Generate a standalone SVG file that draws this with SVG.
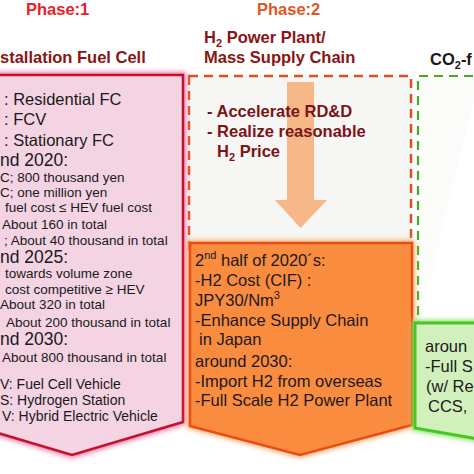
<svg xmlns="http://www.w3.org/2000/svg" width="474" height="474" viewBox="0 0 474 474">
<defs>
<filter id="glow" x="-20%" y="-20%" width="140%" height="140%"><feGaussianBlur stdDeviation="2.5"/></filter>
<style>
text{font-family:"Liberation Sans",Arial,Helvetica,sans-serif}
.hd{font-size:16.5px;font-weight:bold}
.p1{fill:#e8202a}
.p2{fill:#e05526}
.sub{fill:#8b1414}
.blk{fill:#1a1a1a}
.big{font-size:16.5px}
.yr{font-size:17.5px}
.sm{font-size:13.5px}
.lg{font-size:14px}
.body{font-size:16.5px}
.dr{fill:#7a1418;font-weight:bold;font-size:16.5px}
</style>
</defs>
<rect width="474" height="474" fill="#ffffff"/>

<g id="headers">
<text x="26" y="15" class="hd p1">Phase:1</text>
<text x="257" y="15" class="hd p2">Phase:2</text>
<text x="0" y="63" class="hd sub">stallation Fuel Cell</text>
<text x="204" y="43" class="hd sub">H<tspan font-size="11" dy="4">2</tspan><tspan dy="-4"> Power Plant/</tspan></text>
<text x="204" y="63" class="hd sub">Mass Supply Chain</text>
<text x="430" y="65" class="hd blk">CO<tspan font-size="11" dy="4">2</tspan><tspan dy="-4">-f</tspan></text>
</g>

<g id="phase2-frame">
<rect x="189" y="76" width="222" height="180" fill="#f6f6f4" stroke="#e0501e" stroke-width="2.5" stroke-dasharray="9,6"/>
</g>
<g id="phase3-frame">
<path d="M418,330 V76 H480" fill="#fcfcfb" stroke="#45aa25" stroke-width="2.2" stroke-dasharray="9,6"/>
</g>

<g id="phase1">
<path d="M-39,75 H183 V422 L72,455 L-39,422 Z" fill="none" stroke="#f07aa8" stroke-width="6" filter="url(#glow)"/>
<path d="M-39,75 H183 V422 L72,455 L-39,422 Z" fill="#f4d3e2" stroke="#c4102c" stroke-width="2.5"/>
<g class="blk">
<text x="4" y="105" class="big">: Residential FC</text>
<text x="4" y="125" class="big">: FCV</text>
<text x="4" y="146" class="big">: Stationary FC</text>
<text x="0" y="166" class="yr">nd 2020:</text>
<text x="0" y="182" class="sm">C; 800 thousand yen</text>
<text x="0" y="197" class="sm">C; one million yen</text>
<text x="5" y="212" class="sm">fuel cost ≤ HEV fuel cost</text>
<text x="2" y="229" class="sm">About 160 in total</text>
<text x="4" y="245" class="sm">; About 40 thousand in total</text>
<text x="0" y="263" class="yr">nd 2025:</text>
<text x="5" y="278" class="sm">towards volume zone</text>
<text x="5" y="294" class="sm">cost competitive ≥ HEV</text>
<text x="0" y="309" class="sm">About 320 in total</text>
<text x="6" y="327" class="sm">About 200 thousand in total</text>
<text x="0" y="345" class="yr">nd 2030:</text>
<text x="2" y="362" class="sm">About 800 thousand in total</text>
<text x="0" y="389" class="lg">V: Fuel Cell Vehicle</text>
<text x="0" y="405" class="lg">S: Hydrogen Station</text>
<text x="2" y="421" class="lg">V: Hybrid Electric Vehicle</text>
</g>
</g>

<g id="connectors">
<path d="M287,82 H314 V200 H327 L300.5,228 L275,200 H287 Z" fill="#f6b888"/>
</g>

<g id="phase2-goals">
<text x="207" y="117" class="dr">- Accelerate RD&amp;D</text>
<text x="207" y="137" class="dr">- Realize reasonable</text>
<text x="217" y="157" class="dr">H<tspan font-size="11" dy="4">2</tspan><tspan dy="-4"> Price</tspan></text>
</g>

<g id="phase2">
<path d="M190,243 H412 V425 L300,455 L190,426 Z" fill="none" stroke="#fcae70" stroke-width="6" filter="url(#glow)"/>
<path d="M190,243 H412 V425 L300,455 L190,426 Z" fill="#fa8c40" stroke="#e84e14" stroke-width="2.5"/>
<g class="blk body">
<text x="195" y="266">2<tspan font-size="11" dy="-7">nd</tspan><tspan dy="7"> half of 2020´s:</tspan></text>
<text x="195" y="286">-H2 Cost (CIF) :</text>
<text x="195" y="306">JPY30/Nm<tspan font-size="11" dy="-7">3</tspan></text>
<text x="195" y="326">-Enhance Supply Chain</text>
<text x="199" y="345">in Japan</text>
<text x="195" y="367">around 2030:</text>
<text x="195" y="387">-Import H2 from overseas</text>
<text x="195" y="406">-Full Scale H2 Power Plant</text>
</g>
</g>

<g id="phase3">
<path d="M415,323 H490 V441 L415,428 Z" fill="none" stroke="#8ce070" stroke-width="6" filter="url(#glow)"/>
<path d="M415,323 H490 V441 L415,428 Z" fill="#d2f0bc" stroke="#44c81e" stroke-width="3"/>
<g class="blk body">
<text x="425" y="352">aroun</text>
<text x="425" y="372">-Full S</text>
<text x="426" y="392">(w/ Re</text>
<text x="428" y="412">CCS,</text>
</g>
</g>
</svg>
